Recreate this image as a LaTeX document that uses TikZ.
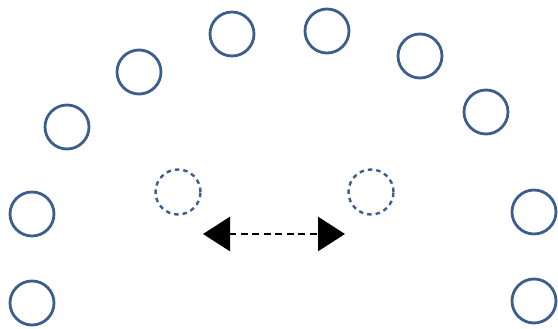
\documentclass[tikz,border=0pt]{standalone}
\usetikzlibrary{arrows.meta}
\definecolor{ringblue}{RGB}{60,94,140}
\begin{document}
\begin{tikzpicture}[x=1pt,y=-1pt,
  ring/.style={circle,draw=ringblue,line width=2.8pt,minimum size=44pt,inner sep=0pt},
  ghost/.style={circle,draw=ringblue,line width=2.4pt,minimum size=45pt,inner sep=0pt,dash pattern=on 4.5pt off 4pt},
  swap/.style={line width=2.8pt,dash pattern=on 7pt off 4.5pt,{Triangle[length=27pt,width=34pt]}-{Triangle[length=27pt,width=34pt]}}]
\useasboundingbox (0,0) rectangle (558,329);
\node[ring] (c1) at (32,303) {};
\node[ring] (c2) at (32,214) {};
\node[ring] (c3) at (67,127) {};
\node[ring] (c4) at (139,72) {};
\node[ring] (c5) at (232,34) {};
\node[ring] (c6) at (327,31) {};
\node[ring] (c7) at (420,56) {};
\node[ring] (c8) at (486,112) {};
\node[ring] (c9) at (534,212) {};
\node[ring] (c10) at (534,301) {};
\node[ghost] (g1) at (178,192) {};
\node[ghost] (g2) at (371,192) {};
\coordinate (al) at (203,234);
\coordinate (ar) at (345,234);
\draw[swap] (al) -- (ar);
\end{tikzpicture}
\end{document}
